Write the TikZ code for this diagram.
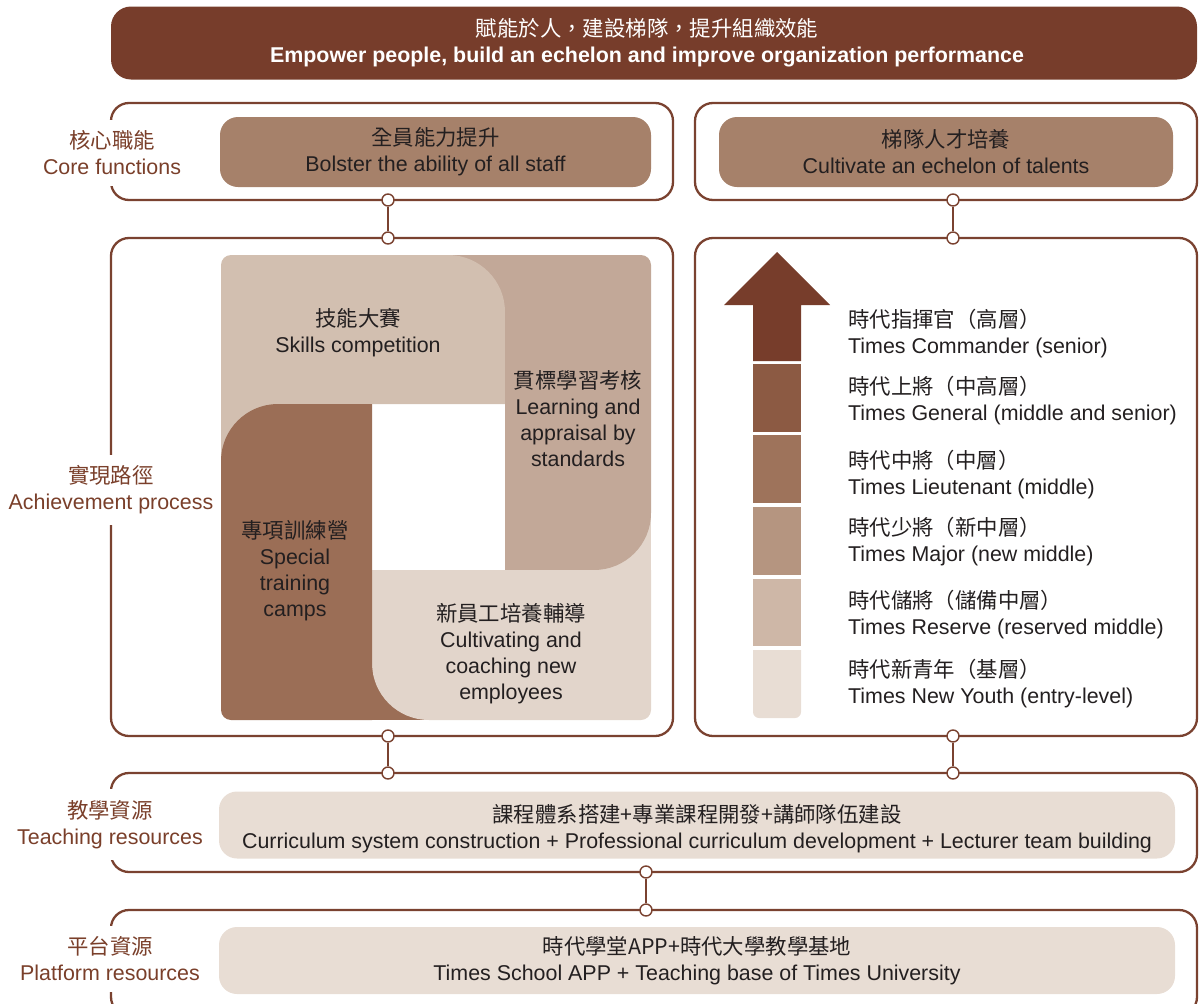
\documentclass[tikz,border=0pt]{standalone}
\usepackage{fontspec}
\setmainfont{Liberation Sans}
\newfontfamily\cjk{Noto Sans CJK TC}
\definecolor{banC}{HTML}{773D2B}
\definecolor{lineC}{HTML}{7A4230}
\definecolor{labC}{HTML}{7A3F2A}
\definecolor{midC}{HTML}{A6816A}
\definecolor{paleC}{HTML}{E8DDD4}
\definecolor{txtC}{HTML}{231F20}
\definecolor{pwTop}{HTML}{D2BFB0}
\definecolor{pwRight}{HTML}{C2A898}
\definecolor{pwBottom}{HTML}{E2D5CB}
\definecolor{pwLeft}{HTML}{9B6E56}
\definecolor{ldA}{HTML}{773D2B}
\definecolor{ldB}{HTML}{8C5A43}
\definecolor{ldC}{HTML}{9E735B}
\definecolor{ldD}{HTML}{B59580}
\definecolor{ldE}{HTML}{CEB7A7}
\definecolor{ldF}{HTML}{E8DDD4}
\begin{document}
\begin{tikzpicture}[x=1pt,y=-1pt,
  every node/.style={font=\fontsize{21.4}{26}\selectfont},
  frame/.style={draw=lineC, line width=2.3, rounded corners=18, inner sep=0},
  ibox/.style={rounded corners=18, inner sep=0, align=center, text=txtC},
  lab/.style={fill=white, text=labC, align=center, inner xsep=3, inner ysep=11},
  dot/.style={circle, draw=lineC, line width=1.4, fill=white, minimum size=12, inner sep=0},
  conn/.style={draw=lineC, line width=2},
  ptxt/.style={align=center, text=txtC, inner sep=0},
  ltxt/.style={align=left, text=txtC, inner sep=0, anchor=west}]
\useasboundingbox (0,0) rectangle (1200,1004);
\clip (0,0) rectangle (1200,1004);

% banner
\node[fill=banC, rounded corners=20, minimum width=1086, minimum height=73, inner sep=0] (banner) at (654,43) {};
\node[text=white, align=center, inner sep=0] (title) at (647,43) {{\cjk 賦能於人，建設梯隊，提升組織效能}\\\textbf{Empower people, build an echelon and improve organization performance}};

% row frames
\node[frame, minimum width=562, minimum height=97] (r1L) at (392,151.5) {};
\node[frame, minimum width=502, minimum height=97] (r1R) at (946,151.5) {};
\node[frame, minimum width=562, minimum height=498] (r2L) at (392,487) {};
\node[frame, minimum width=502, minimum height=498] (r2R) at (946,487) {};
\node[frame, minimum width=1086, minimum height=99] (r3) at (654,822.5) {};
\node[frame, minimum width=1086, minimum height=105] (r4) at (654,962.5) {};

% inner boxes
\node[ibox, fill=midC, minimum width=431, minimum height=70] (i1L) at (435.5,152) {{\cjk 全員能力提升}\\Bolster the ability of all staff};
\node[ibox, fill=midC, minimum width=454, minimum height=70] (i1R) at (946,152) {{\cjk 梯隊人才培養}\\Cultivate an echelon of talents};
\node[ibox, fill=paleC, minimum width=956, minimum height=67] (i3) at (697,825) {};
\node[ptxt] (i3t) at (697,829) {{\cjk 課程體系搭建+專業課程開發+講師隊伍建設}\\Curriculum system construction + Professional curriculum development + Lecturer team building};
\node[ibox, fill=paleC, minimum width=956, minimum height=67] (i4) at (697,960.5) {{\cjk 時代學堂APP+時代大學教學基地}\\Times School APP + Teaching base of Times University};

% side labels
\node[lab] (l1) at (112,153) {{\cjk 核心職能}\\Core functions};
\node[lab] (l2) at (111,490) {{\cjk 實現路徑}\\Achievement process};
\node[lab] (l3) at (110,824.5) {{\cjk 教學資源}\\Teaching resources};
\node[lab] (l4) at (110,959) {{\cjk 平台資源}\\Platform resources};

% connectors
\node[dot] (d1a) at (388,200) {};
\node[dot] (d1b) at (388,238) {};
\node[dot] (d2a) at (953,200) {};
\node[dot] (d2b) at (953,238) {};
\node[dot] (d3a) at (388,736) {};
\node[dot] (d3b) at (388,773) {};
\node[dot] (d4a) at (953,736) {};
\node[dot] (d4b) at (953,773) {};
\node[dot] (d5a) at (646,872) {};
\node[dot] (d5b) at (646,910) {};
\draw[conn] (d1a) -- (d1b);
\draw[conn] (d2a) -- (d2b);
\draw[conn] (d3a) -- (d3b);
\draw[conn] (d4a) -- (d4b);
\draw[conn] (d5a) -- (d5b);

% pinwheel fillers
\fill[pwRight] (448,255) rectangle (505,312);
\fill[pwBottom] (594,513) rectangle (651,570);
\fill[pwLeft] (372,663) rectangle (429,720);
\fill[pwTop] (221,404) rectangle (278,461);
% pinwheel pieces
\fill[pwTop] (221,404) -- (221,265) .. controls (221,259.5) and (225.5,255) .. (231,255) -- (448,255) .. controls (479.5,255) and (505,280.5) .. (505,312) -- (505,404) -- cycle;
\fill[pwRight] (505,255) -- (641,255) .. controls (646.5,255) and (651,259.5) .. (651,265) -- (651,513) .. controls (651,544.5) and (625.5,570) .. (594,570) -- (505,570) -- cycle;
\fill[pwBottom] (651,570) -- (651,710) .. controls (651,715.5) and (646.5,720) .. (641,720) -- (429,720) .. controls (397.5,720) and (372,694.5) .. (372,663) -- (372,570) -- cycle;
\fill[pwLeft] (372,720) -- (231,720) .. controls (225.5,720) and (221,715.5) .. (221,710) -- (221,461) .. controls (221,429.5) and (246.5,404) .. (278,404) -- (372,404) -- cycle;
\node[ptxt] (p1) at (358,332.5) {{\cjk 技能大賽}\\Skills competition};
\node[ptxt] (p2) at (578,418.5) {{\cjk 貫標學習考核}\\Learning and\\appraisal by\\standards};
\node[ptxt] (p3) at (295,571) {{\cjk 專項訓練營}\\Special\\training\\camps};
\node[ptxt] (p4) at (511,654) {{\cjk 新員工培養輔導}\\Cultivating and\\coaching new\\employees};

% ladder arrow
\fill[ldA] (753,361) -- (753,305) -- (724,305) -- (777,252) -- (830,305) -- (801,305) -- (801,361) -- cycle;
\fill[ldB] (753,364) rectangle (801,432);
\fill[ldC] (753,435) rectangle (801,503);
\fill[ldD] (753,507) rectangle (801,575);
\fill[ldE] (753,579) rectangle (801,646);
\fill[ldF] (753,650) -- (801,650) -- (801,712) .. controls (801,715.3) and (798.3,718) .. (795,718) -- (759,718) .. controls (755.7,718) and (753,715.3) .. (753,712) -- cycle;
\node[ltxt] (t1) at (848,333.5) {{\cjk 時代指揮官（高層）}\\Times Commander (senior)};
\node[ltxt] (t2) at (848,401) {{\cjk 時代上將（中高層）}\\Times General (middle and senior)};
\node[ltxt] (t3) at (848,474.5) {{\cjk 時代中將（中層）}\\Times Lieutenant (middle)};
\node[ltxt] (t4) at (848,542) {{\cjk 時代少將（新中層）}\\Times Major (new middle)};
\node[ltxt] (t5) at (848,614.5) {{\cjk 時代儲將（儲備中層）}\\Times Reserve (reserved middle)};
\node[ltxt] (t6) at (848,684) {{\cjk 時代新青年（基層）}\\Times New Youth (entry-level)};
\end{tikzpicture}
\end{document}
